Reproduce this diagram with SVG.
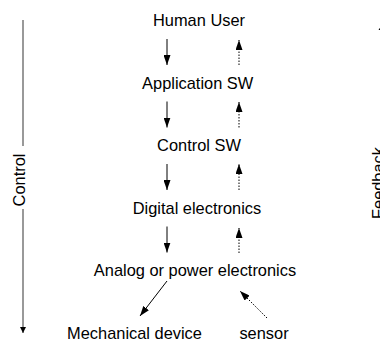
<svg xmlns="http://www.w3.org/2000/svg" width="380" height="342" viewBox="0 0 380 342">
<defs>
<style>
text{font-family:"Liberation Sans",Arial,sans-serif;font-size:16.4px;fill:#000;text-anchor:middle}
.c{stroke:#000;stroke-width:1;fill:none}
.d{stroke:#000;stroke-width:1;fill:none;stroke-dasharray:1.5 1.5}
.side{stroke:#777;stroke-width:1.5;fill:none}
</style>
<marker id="ah" markerUnits="userSpaceOnUse" markerWidth="10" markerHeight="7" refX="10" refY="3.5" orient="auto">
<path d="M0,0 L10,3.5 L0,7 z" fill="#000"/>
</marker>
<marker id="sh" markerUnits="userSpaceOnUse" markerWidth="6" markerHeight="6" refX="6" refY="3" orient="auto">
<path d="M0,0 L6,3 L0,6 z" fill="#000"/>
</marker>
</defs>
<rect width="380" height="342" fill="#fff"/>
<g id="human-user"><text x="199" y="26">Human User</text></g>
<g id="application-sw"><text x="197.7" y="88.5">Application SW</text></g>
<g id="control-sw"><text x="199" y="151">Control SW</text></g>
<g id="digital-electronics"><text x="197" y="213.5">Digital electronics</text></g>
<g id="analog-power"><text x="195" y="276">Analog or power electronics</text></g>
<g id="mechanical-device"><text x="134.5" y="338.5">Mechanical device</text></g>
<g id="sensor"><text x="264" y="338.5">sensor</text></g>
<g id="control-label"><text transform="translate(25,180) rotate(-90)">Control</text></g>
<g id="feedback-label"><text transform="translate(383.7,183) rotate(-90)">Feedback</text></g>
<g id="connectors">
<line class="c" x1="167" y1="39" x2="167" y2="65" marker-end="url(#ah)"/>
<line class="c" x1="167" y1="101.5" x2="167" y2="127.5" marker-end="url(#ah)"/>
<line class="c" x1="167" y1="164" x2="167" y2="190" marker-end="url(#ah)"/>
<line class="c" x1="167" y1="226.5" x2="167" y2="252.5" marker-end="url(#ah)"/>
<line class="d" x1="239" y1="65" x2="239" y2="40" marker-end="url(#ah)"/>
<line class="d" x1="239" y1="127.5" x2="239" y2="102" marker-end="url(#ah)"/>
<line class="d" x1="239" y1="190" x2="239" y2="164" marker-end="url(#ah)"/>
<line class="d" x1="239" y1="253" x2="239" y2="228" marker-end="url(#ah)"/>
<line class="c" x1="167" y1="281" x2="140" y2="316" marker-end="url(#ah)"/>
<line class="d" x1="267" y1="318" x2="240" y2="291" marker-end="url(#ah)"/>
<line class="side" x1="23" y1="20" x2="23" y2="146"/>
<line class="side" x1="23" y1="209" x2="23" y2="333" marker-end="url(#sh)"/>
<polygon points="385,20 378.5,30 391.5,30" fill="#000"/>
</g>
</svg>
